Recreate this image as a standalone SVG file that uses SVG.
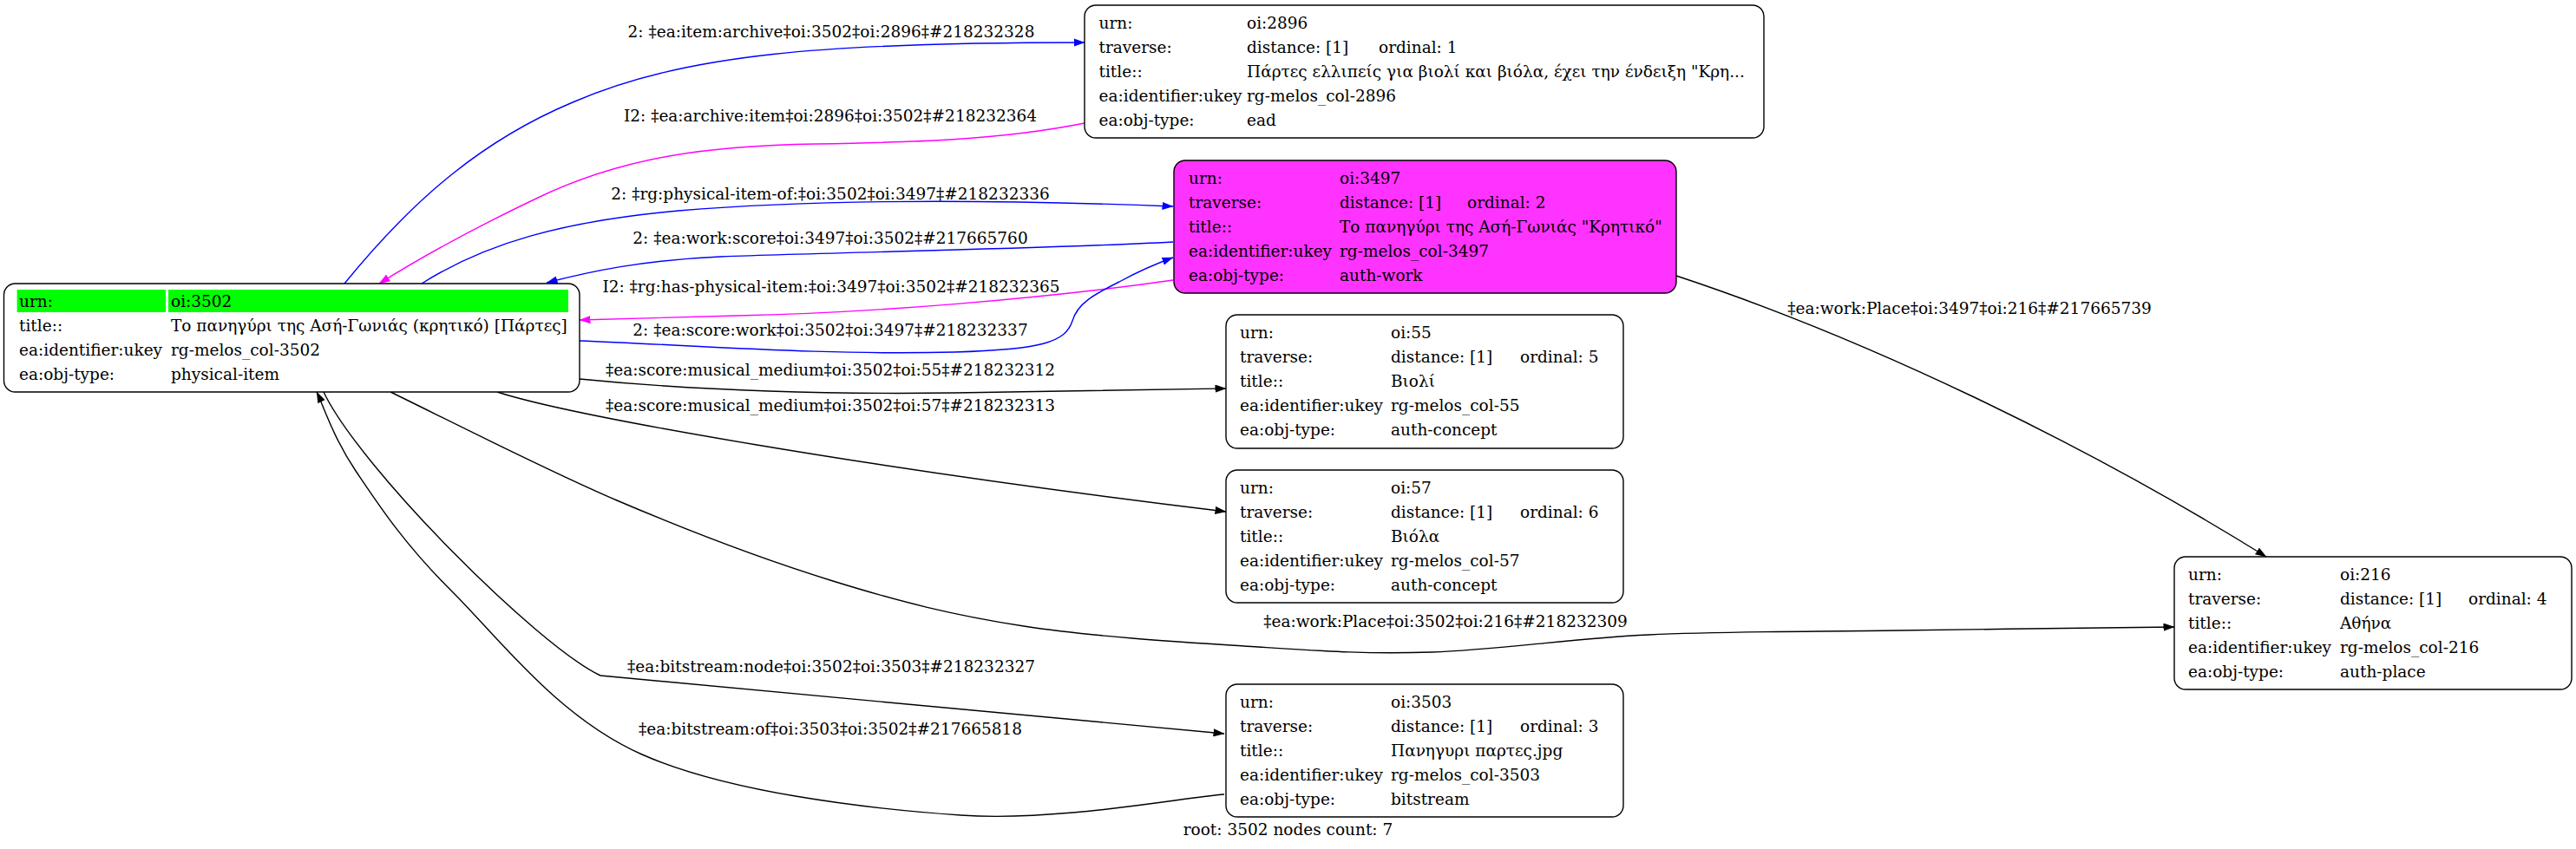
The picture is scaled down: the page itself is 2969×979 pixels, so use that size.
<svg xmlns="http://www.w3.org/2000/svg" width="2969" height="979" viewBox="0 0 2969 979">
<style>
text{font-family:"DejaVu Serif","Liberation Serif",serif;font-size:18.5px;fill:#000}
.lbl{text-anchor:middle}
.box{fill:#fff;stroke:#000;stroke-width:1.4}
.e{fill:none;stroke-width:1.4}
.blue{stroke:#0000ff}
.mag{stroke:#ff00ff}
.blk{stroke:#000}
</style>
<defs>
<marker id="ab" viewBox="0 0 13 9.2" refX="12.5" refY="4.6" markerWidth="13" markerHeight="9.2" markerUnits="userSpaceOnUse" orient="auto"><path d="M0,0 L13,4.6 L0,9.2 z" fill="#0000ff"/></marker>
<marker id="am" viewBox="0 0 13 9.2" refX="12.5" refY="4.6" markerWidth="13" markerHeight="9.2" markerUnits="userSpaceOnUse" orient="auto"><path d="M0,0 L13,4.6 L0,9.2 z" fill="#ff00ff"/></marker>
<marker id="ak" viewBox="0 0 13 9.2" refX="12.5" refY="4.6" markerWidth="13" markerHeight="9.2" markerUnits="userSpaceOnUse" orient="auto"><path d="M0,0 L13,4.6 L0,9.2 z" fill="#000"/></marker>
</defs>
<rect width="2969" height="979" fill="#fff"/>
<g id="edges">
<path class="e blue" marker-end="url(#ab)" d="M397,327 C480,225 560,160 660,118 C790,62 950,49 1250,49"/>
<path class="e mag" marker-end="url(#am)" d="M1250,142 C1150,162 1050,164 940,166 C820,168 720,180 620,228 C540,266 480,300 437,327"/>
<path class="e blue" marker-end="url(#ab)" d="M486,327 C560,280 650,255 782,243 C950,229 1150,230 1352,238"/>
<path class="e blue" marker-end="url(#ab)" d="M1352,279 C1200,287 1000,290 830,296 C740,300 680,313 630,326"/>
<path class="e mag" marker-end="url(#am)" d="M1352,323 C1200,345 1000,361 850,364 C760,366 710,368 668,369"/>
<path class="e blue" marker-end="url(#ab)" d="M668,393 C800,398 950,410 1100,406 C1200,403 1228,395 1236,370 C1242,350 1260,340 1290,325 C1310,314 1330,305 1352,297"/>
<path class="e blk" marker-end="url(#ak)" d="M668,437 C800,450 950,455 1100,453 C1250,451 1330,449 1413,448"/>
<path class="e blk" marker-end="url(#ak)" d="M573,452 C660,480 1000,540 1413,590"/>
<path class="e blk" marker-end="url(#ak)" d="M450,452 C493.5,472.8 626,540.7 711,577 C796,613.3 881.8,645.8 960,670 C1038.2,694.2 1098.3,709.3 1180,722 C1261.7,734.7 1371.7,741 1450,746 C1528.3,751 1575,754.3 1650,752 C1725,749.7 1810.5,736.2 1900,732 C1989.5,727.8 2086,728.5 2187,727 C2288,725.5 2453,723.7 2506,723"/>
<path class="e blk" marker-end="url(#ak)" d="M1932,318 C2150,390 2400,510 2612,642"/>
<path class="e blk" marker-end="url(#ak)" d="M373,452 C415,540 620,745 692,779 L1411,846"/>
<path class="e blk" marker-end="url(#ak)" d="M1411,916 C1360.3,920 1218.8,947.7 1107,940 C995.2,932.3 837.8,913.2 740,870 C642.2,826.8 575,735.5 520,681 C465,626.5 435.8,581.2 410,543 C384.2,504.8 372.5,467.2 365,452"/>
<text class="lbl" x="958" y="43">2: ‡ea:item:archive‡oi:3502‡oi:2896‡#218232328</text>
<text class="lbl" x="957" y="140">I2: ‡ea:archive:item‡oi:2896‡oi:3502‡#218232364</text>
<text class="lbl" x="957" y="230">2: ‡rg:physical-item-of:‡oi:3502‡oi:3497‡#218232336</text>
<text class="lbl" x="957" y="281">2: ‡ea:work:score‡oi:3497‡oi:3502‡#217665760</text>
<text class="lbl" x="958" y="337">I2: ‡rg:has-physical-item:‡oi:3497‡oi:3502‡#218232365</text>
<text class="lbl" x="957" y="387">2: ‡ea:score:work‡oi:3502‡oi:3497‡#218232337</text>
<text class="lbl" x="957" y="433">‡ea:score:musical_medium‡oi:3502‡oi:55‡#218232312</text>
<text class="lbl" x="957" y="474">‡ea:score:musical_medium‡oi:3502‡oi:57‡#218232313</text>
<text class="lbl" x="1666" y="723">‡ea:work:Place‡oi:3502‡oi:216‡#218232309</text>
<text class="lbl" x="2270" y="362">‡ea:work:Place‡oi:3497‡oi:216‡#217665739</text>
<text class="lbl" x="958" y="775">‡ea:bitstream:node‡oi:3502‡oi:3503‡#218232327</text>
<text class="lbl" x="957" y="847">‡ea:bitstream:of‡oi:3503‡oi:3502‡#217665818</text>
</g>
<g id="n3502">
<rect class="box" x="4.5" y="327" width="663.5" height="125" rx="13"/>
<rect x="19.6" y="334" width="171.4" height="26" fill="#00ff00"/>
<rect x="194" y="334" width="461" height="26" fill="#00ff00"/>
<text x="22" y="353.5">urn:</text><text x="197" y="353.5">oi:3502</text>
<text x="22" y="381.5">title::</text><text x="197" y="381.5">Το πανηγύρι της Ασή-Γωνιάς (κρητικό) [Πάρτες]</text>
<text x="22" y="409.5">ea:identifier:ukey</text><text x="197" y="409.5">rg-melos_col-3502</text>
<text x="22" y="437.5">ea:obj-type:</text><text x="197" y="437.5">physical-item</text>
</g>
<g id="n2896">
<rect class="box" x="1250" y="6" width="783" height="153" rx="13"/>
<text x="1266.5" y="32.5">urn:</text><text x="1437" y="32.5">oi:2896</text>
<text x="1266.5" y="60.5">traverse:</text><text x="1437" y="60.5">distance: [1]</text><text x="1589" y="60.5">ordinal: 1</text>
<text x="1266.5" y="88.5">title::</text><text x="1437" y="88.5">Πάρτες ελλιπείς για βιολί και βιόλα, έχει την ένδειξη "Κρη...</text>
<text x="1266.5" y="116.5">ea:identifier:ukey</text><text x="1437" y="116.5">rg-melos_col-2896</text>
<text x="1266.5" y="144.5">ea:obj-type:</text><text x="1437" y="144.5">ead</text>
</g>
<g id="n3497">
<rect class="box" x="1353" y="185" width="579" height="153" rx="13" style="fill:#ff33ff"/>
<text x="1370" y="211.5">urn:</text><text x="1544" y="211.5">oi:3497</text>
<text x="1370" y="239.5">traverse:</text><text x="1544" y="239.5">distance: [1]</text><text x="1691" y="239.5">ordinal: 2</text>
<text x="1370" y="267.5">title::</text><text x="1544" y="267.5">Το πανηγύρι της Ασή-Γωνιάς "Κρητικό"</text>
<text x="1370" y="295.5">ea:identifier:ukey</text><text x="1544" y="295.5">rg-melos_col-3497</text>
<text x="1370" y="323.5">ea:obj-type:</text><text x="1544" y="323.5">auth-work</text>
</g>
<g id="n55">
<rect class="box" x="1413" y="363" width="458" height="154" rx="13"/>
<text x="1429" y="389.5">urn:</text><text x="1603" y="389.5">oi:55</text>
<text x="1429" y="417.5">traverse:</text><text x="1603" y="417.5">distance: [1]</text><text x="1752" y="417.5">ordinal: 5</text>
<text x="1429" y="445.5">title::</text><text x="1603" y="445.5">Βιολί</text>
<text x="1429" y="473.5">ea:identifier:ukey</text><text x="1603" y="473.5">rg-melos_col-55</text>
<text x="1429" y="501.5">ea:obj-type:</text><text x="1603" y="501.5">auth-concept</text>
</g>
<g id="n57">
<rect class="box" x="1413" y="542" width="458" height="153" rx="13"/>
<text x="1429" y="568.5">urn:</text><text x="1603" y="568.5">oi:57</text>
<text x="1429" y="596.5">traverse:</text><text x="1603" y="596.5">distance: [1]</text><text x="1752" y="596.5">ordinal: 6</text>
<text x="1429" y="624.5">title::</text><text x="1603" y="624.5">Βιόλα</text>
<text x="1429" y="652.5">ea:identifier:ukey</text><text x="1603" y="652.5">rg-melos_col-57</text>
<text x="1429" y="680.5">ea:obj-type:</text><text x="1603" y="680.5">auth-concept</text>
</g>
<g id="n3503">
<rect class="box" x="1413" y="789" width="458" height="153" rx="13"/>
<text x="1429" y="815.5">urn:</text><text x="1603" y="815.5">oi:3503</text>
<text x="1429" y="843.5">traverse:</text><text x="1603" y="843.5">distance: [1]</text><text x="1752" y="843.5">ordinal: 3</text>
<text x="1429" y="871.5">title::</text><text x="1603" y="871.5">Πανηγυρι παρτες.jpg</text>
<text x="1429" y="899.5">ea:identifier:ukey</text><text x="1603" y="899.5">rg-melos_col-3503</text>
<text x="1429" y="927.5">ea:obj-type:</text><text x="1603" y="927.5">bitstream</text>
</g>
<g id="n216">
<rect class="box" x="2506" y="642" width="458" height="153" rx="13"/>
<text x="2522" y="668.5">urn:</text><text x="2697" y="668.5">oi:216</text>
<text x="2522" y="696.5">traverse:</text><text x="2697" y="696.5">distance: [1]</text><text x="2845" y="696.5">ordinal: 4</text>
<text x="2522" y="724.5">title::</text><text x="2697" y="724.5">Αθήνα</text>
<text x="2522" y="752.5">ea:identifier:ukey</text><text x="2697" y="752.5">rg-melos_col-216</text>
<text x="2522" y="780.5">ea:obj-type:</text><text x="2697" y="780.5">auth-place</text>
</g>
<text class="lbl" x="1484.5" y="963">root: 3502 nodes count: 7</text>
</svg>
